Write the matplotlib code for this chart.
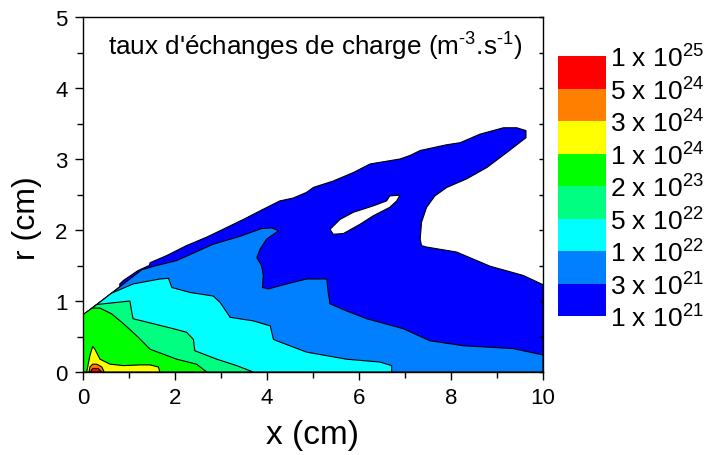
import matplotlib
matplotlib.use("Agg")
import matplotlib.pyplot as plt
from matplotlib.colors import ListedColormap
from matplotlib.cm import ScalarMappable
from matplotlib.colors import BoundaryNorm

plt.rcParams['font.family'] = ['Liberation Sans', 'DejaVu Sans']
plt.rcParams['mathtext.fontset'] = 'custom'
plt.rcParams['mathtext.rm'] = 'Liberation Sans'
plt.rcParams['mathtext.it'] = 'Liberation Sans'

# contour boundaries, (x cm, r cm), lowest level first
lvl_1e21 = [(0, 0.8), (0.8, 1.2), (0.8, 1.24), (0.88, 1.29), (1.2, 1.43), (1.44, 1.5),
            (1.46, 1.54), (1.82, 1.64), (2.25, 1.78), (2.69, 1.9), (2.98, 1.99), (3.49, 2.15),
            (3.85, 2.27), (4.28, 2.41), (4.57, 2.45), (4.86, 2.53), (5.01, 2.6), (5.44, 2.69),
            (5.88, 2.81), (6.24, 2.93), (6.89, 3.0), (7.11, 3.05), (7.33, 3.12), (7.9, 3.2),
            (8.2, 3.23), (8.63, 3.35), (9.14, 3.44), (9.43, 3.44), (9.63, 3.4), (9.63, 3.3),
            (9.21, 3.09), (8.78, 2.88), (8.34, 2.72), (7.91, 2.6), (7.65, 2.48), (7.47, 2.32),
            (7.36, 2.11), (7.33, 1.87), (7.36, 1.78), (7.47, 1.76), (8.12, 1.69), (8.85, 1.49),
            (9.57, 1.36), (10, 1.23), (10, 0), (0, 0)]
hole_1e21 = [(5.37, 2.01), (5.59, 2.15), (5.88, 2.25), (6.31, 2.34), (6.6, 2.41), (6.67, 2.48),
             (6.89, 2.49), (6.82, 2.41), (6.67, 2.32), (6.31, 2.2), (6.02, 2.08), (5.66, 1.95),
             (5.44, 1.94)]
lvl_3e21 = [(0, 0.8), (1.28, 1.44), (1.6, 1.5), (2.04, 1.57), (2.83, 1.8), (3.41, 1.91),
            (3.88, 2.02), (4.1, 2.03), (4.25, 1.99), (3.99, 1.87), (3.85, 1.73), (3.78, 1.61),
            (3.88, 1.5), (3.92, 1.36), (3.9, 1.19), (4.03, 1.17), (4.43, 1.24), (4.86, 1.31),
            (5.3, 1.31), (5.33, 1.12), (5.37, 0.96), (5.73, 0.86), (6.17, 0.75), (6.96, 0.61),
            (7.54, 0.44), (8.27, 0.37), (9.35, 0.33), (10, 0.24), (10, 0), (0, 0)]
lvl_1e22 = [(0, 0.8), (0.62, 1.11), (1.09, 1.24), (1.67, 1.31), (1.86, 1.32), (1.93, 1.19),
            (2.33, 1.12), (2.83, 1.07), (2.98, 0.98), (3.2, 0.77), (3.7, 0.72), (4.07, 0.65),
            (4.14, 0.46), (4.21, 0.44), (4.86, 0.28), (5.73, 0.18), (6.46, 0.14), (6.71, 0.09),
            (6.71, 0), (0, 0)]
lvl_5e22 = [(0, 0.8), (0.3, 0.95), (0.44, 0.96), (0.73, 0.98), (1.02, 1.0), (1.06, 0.84),
            (1.09, 0.75), (1.53, 0.68), (1.96, 0.61), (2.25, 0.56), (2.4, 0.46), (2.43, 0.3),
            (2.91, 0.18), (3.34, 0.09), (3.7, 0), (0, 0)]
lvl_2e23 = [(0, 0.81), (0.2, 0.9), (0.37, 0.9), (0.62, 0.82), (0.88, 0.68), (1.2, 0.49),
            (1.46, 0.32), (1.75, 0.25), (2.04, 0.18), (2.47, 0.11), (2.69, 0), (0, 0)]
lvl_1e24 = [(0.08, 0), (0.15, 0.23), (0.21, 0.36), (0.26, 0.32), (0.37, 0.18), (0.59, 0.11),
            (0.88, 0.09), (1.24, 0.1), (1.46, 0.1), (1.64, 0.07), (1.67, 0)]
lvl_3e24 = [(0.13, 0), (0.15, 0.07), (0.21, 0.11), (0.3, 0.11), (0.41, 0.07), (0.46, 0)]
lvl_5e24 = [(0.16, 0), (0.21, 0.05), (0.33, 0.05), (0.41, 0)]

regions = [lvl_1e21, lvl_3e21, lvl_1e22, lvl_5e22, lvl_2e23, lvl_1e24, lvl_3e24, lvl_5e24]
colors = ['#0000FF', '#0080FF', '#00FFFF', '#00FF80', '#00FF00', '#FFFF00', '#FF8000', '#FF0000']
level_labels = ['1 x 10$^{21}$', '3 x 10$^{21}$', '1 x 10$^{22}$', '5 x 10$^{22}$',
                '2 x 10$^{23}$', '1 x 10$^{24}$', '3 x 10$^{24}$', '5 x 10$^{24}$',
                '1 x 10$^{25}$']

fig = plt.figure(figsize=(7.14, 4.56), dpi=100)
ax = fig.add_axes([83 / 714, 83 / 456, 460 / 714, 355 / 456])

for poly, c in zip(regions, colors):
    xs = [p[0] for p in poly]
    rs = [p[1] for p in poly]
    ax.fill(xs, rs, facecolor=c, edgecolor='black', linewidth=0.8)
    if poly is lvl_1e21:
        ax.fill([p[0] for p in hole_1e21], [p[1] for p in hole_1e21],
                facecolor='white', edgecolor='black', linewidth=0.8)

ax.set_xlim(0, 10)
ax.set_ylim(0, 5)
ax.set_xticks(range(0, 11, 2))
ax.set_xticks(range(1, 11, 2), minor=True)
ax.set_yticks(range(0, 6))
ax.set_yticks([0.5, 1.5, 2.5, 3.5, 4.5], minor=True)
ax.tick_params(which='major', direction='out', length=6, width=1, labelsize=16,
               right=True, top=False, pad=5)
ax.tick_params(which='minor', direction='out', length=4, width=1, right=True, top=False)
ax.tick_params(axis='y', which='both', labelright=False)
for t in ax.yaxis.get_major_ticks() + ax.yaxis.get_minor_ticks():
    t.tick2line.set_marker(matplotlib.lines.TICKLEFT)
    t.tick2line.set_markersize(3)
for s in ax.spines.values():
    s.set_linewidth(1)
ax.set_xlabel('x (cm)', fontsize=24)
ax.xaxis.set_label_coords(0.498, -0.132)
ax.set_ylabel('r (cm)', fontsize=23)
ax.yaxis.set_label_coords(-0.09, 0.437)
ax.text(0.504, 0.918, "taux d'échanges de charge (m$^{\\text{-3}}$.s$^{\\text{-1}}$)",
        transform=ax.transAxes, ha='center', va='center', fontsize=18.8)

cax = fig.add_axes([558 / 714, (456 - 317) / 456, 48 / 714, 260 / 456])
cmap = ListedColormap(colors)
norm = BoundaryNorm(list(range(len(colors) + 1)), cmap.N)
cb = fig.colorbar(ScalarMappable(norm=norm, cmap=cmap), cax=cax,
                  ticks=list(range(len(level_labels))))
cb.ax.set_yticklabels(level_labels)
cb.outline.set_visible(False)
cb.ax.tick_params(length=0, labelsize=19, pad=3)

fig.savefig('out.png', dpi=100)
